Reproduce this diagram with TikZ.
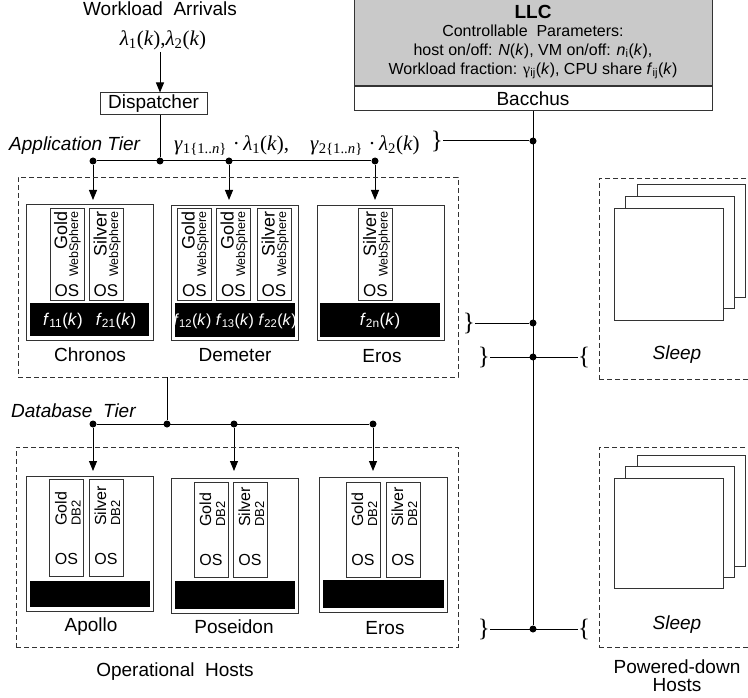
\documentclass[tikz,border=0pt]{standalone}
\usepackage{fontspec}
\setmainfont{Liberation Sans}
\newfontfamily\timesfont{Liberation Serif}
\usetikzlibrary{arrows.meta,positioning}

\begin{document}
\begin{tikzpicture}[x=1pt,y=-1pt,
  box/.style={draw=black!80, line width=1pt, fill=white, inner sep=0pt},
  tier/.style={draw=black!80, line width=0.9pt, dash pattern=on 5pt off 3pt, inner sep=0pt},
  host/.style={box, minimum width=127pt, minimum height=135pt},
  vm/.style={box, minimum width=34pt},
  bar/.style={fill=black, minimum width=120pt, inner sep=0pt},
  ftxt/.style={inner sep=0pt, text=white, font=\fontsize{17}{17}\selectfont},
  page/.style={draw=black!80, line width=1pt, fill=white},
  link/.style={line width=1pt},
  feed/.style={link, -{Triangle[length=10pt,width=8pt]}},
  dot/.style={circle, fill=black, inner sep=0pt, minimum size=7pt},
  lbl/.style={inner sep=0pt, font=\fontsize{19}{21}\selectfont},
  param/.style={inner sep=0pt, font=\fontsize{16}{18}\selectfont},
  formula/.style={inner sep=0pt, font=\fontsize{21}{21}\timesfont},
  big/.style={rotate=90, inner sep=0pt, font=\fontsize{18}{18}\selectfont},
  tiny/.style={rotate=90, inner sep=0pt, font=\fontsize{12.5}{13}\selectfont},
  os/.style={inner sep=0pt, font=\fontsize{17}{17}\selectfont},
  brace/.style={inner sep=0pt, font=\fontsize{25}{25}\timesfont}]
  \useasboundingbox (0,0) rectangle (748,698);

  % workload and dispatcher
  \node[lbl] (arrivals) at (160,9) {Workload~~Arrivals};
  \node[formula] (lambda) at (163,40) {\textit{λ}\textsubscript{1}(\textit{k}),\textit{λ}\textsubscript{2}(\textit{k})};
  \node[box, lbl, minimum width=107pt, minimum height=22pt] (disp) at (153.5,104) {Dispatcher};
  \coordinate (arr) at (160,52);
  \draw[feed] (arr) -- (arr |- disp.north);

  % application tier
  \node[lbl, font=\fontsize{19}{21}\selectfont\itshape, anchor=west] (apptxt) at (9,146) {Application Tier};
  \node[formula, anchor=west] (gamma) at (174,146) {\textit{γ}\textsubscript{1\{1..\textit{n}\}}\;·\,\textit{λ}\textsubscript{1}(\textit{k}),\quad\textit{γ}\textsubscript{2\{1..\textit{n}\}}\;·\,\textit{λ}\textsubscript{2}(\textit{k})};
  \node[dot] (a1) at (93,161) {};
  \node[dot] (a2) at (160,161) {};
  \node[dot] (a3) at (229,161) {};
  \node[dot] (a4) at (375,161) {};
  \draw[link] (arr |- disp.south) -- (a2);
  \draw[link] (a1) -- (a4);
  \coordinate (t1) at (93,200);
  \coordinate (t2) at (229,200);
  \coordinate (t3) at (375,200);
  \draw[feed] (a1) -- (t1);
  \draw[feed] (a3) -- (t2);
  \draw[feed] (a4) -- (t3);

  \node[tier, minimum width=440pt, minimum height=200pt] (apptier) at (238,277) {};

  \node[host] (chronos) at (89.5,272.5) {};
  \node[host] (demeter) at (235,273) {};
  \node[host] (erosapp) at (380.5,273) {};

  \node[vm, minimum height=91pt] (chg) at (67,254.5) {};
  \node[big, anchor=base east] (chgt) at (67,211) {Gold};
  \node[tiny, anchor=base east] (chgw) at (78,211) {WebSphere};
  \node[os] (chgo) at (67,291) {OS};
  \node[vm, minimum height=91pt] (chs) at (106,254.5) {};
  \node[big, anchor=base east] (chst) at (106.5,211) {Silver};
  \node[tiny, anchor=base east] (chsw) at (118,211) {WebSphere};
  \node[os] (chso) at (106,291) {OS};

  \node[vm, minimum height=91pt] (deg1) at (194.5,254.5) {};
  \node[big, anchor=base east] (deg1t) at (194.5,211) {Gold};
  \node[tiny, anchor=base east] (deg1w) at (206,211) {WebSphere};
  \node[os] (deg1o) at (194.5,291) {OS};
  \node[vm, minimum height=91pt] (deg2) at (233.5,254.5) {};
  \node[big, anchor=base east] (deg2t) at (233.5,211) {Gold};
  \node[tiny, anchor=base east] (deg2w) at (245,211) {WebSphere};
  \node[os] (deg2o) at (233.5,291) {OS};
  \node[vm, minimum height=91pt] (des) at (274,254.5) {};
  \node[big, anchor=base east] (dest) at (274.5,211) {Silver};
  \node[tiny, anchor=base east] (desw) at (286,211) {WebSphere};
  \node[os] (deso) at (274,291) {OS};

  \node[vm, minimum height=91pt] (ers) at (375.5,254.5) {};
  \node[big, anchor=base east] (erst) at (376,211) {Silver};
  \node[tiny, anchor=base east] (ersw) at (387.5,211) {WebSphere};
  \node[os] (erso) at (375.5,291) {OS};

  \node[bar, minimum width=119pt, minimum height=33pt] (chbar) at (89.5,319.5) {};
  \node[ftxt] (f11) at (63,321) {\textit{f}\textsubscript{11}(\textit{k})};
  \node[ftxt] (f21) at (116,321) {\textit{f}\textsubscript{21}(\textit{k})};
  \node[bar, minimum height=34pt] (debar) at (235,319.5) {};
  \node[ftxt, font=\fontsize{16}{16}\selectfont] (f12) at (235,321) {\textit{f}\textsubscript{12}(\textit{k}) \textit{f}\textsubscript{13}(\textit{k}) \textit{f}\textsubscript{22}(\textit{k})};
  \node[bar, minimum height=34pt] (erbar) at (380,320) {};
  \node[ftxt] (f2n) at (380,321) {\textit{f}\textsubscript{2n}(\textit{k})};

  \node[lbl] (chronoslbl) at (90,355) {Chronos};
  \node[lbl] (demeterlbl) at (235,355) {Demeter};
  \node[lbl] (eroslbl) at (382,356) {Eros};

  % database tier
  \node[lbl, font=\fontsize{19}{21}\selectfont\itshape, anchor=west] (dbtxt) at (11,411) {Database~~Tier};
  \node[dot] (d1) at (93,424) {};
  \node[dot] (d2) at (167,424) {};
  \node[dot] (d3) at (234,424) {};
  \node[dot] (d4) at (373,424) {};
  \draw[link] (apptier.south -| d2) -- (d2);
  \draw[link] (d1) -- (d4);
  \coordinate (u1) at (93,471);
  \coordinate (u2) at (234,471);
  \coordinate (u3) at (373,471);
  \draw[feed] (d1) -- (u1);
  \draw[feed] (d3) -- (u2);
  \draw[feed] (d4) -- (u3);

  \node[tier, minimum width=442pt, minimum height=200pt] (dbtier) at (237,547) {};

  \node[host] (apollo) at (89.5,543.5) {};
  \node[host] (poseidon) at (234.5,545.5) {};
  \node[host, minimum width=128pt] (erosdb) at (383,544.5) {};

  \node[vm, minimum height=97pt] (apg) at (66.5,527.5) {};
  \node[big, font=\fontsize{16}{16}\selectfont, anchor=base west] (apgt) at (66.5,526) {Gold};
  \node[tiny, font=\fontsize{13}{13}\selectfont, anchor=base west] (apgd) at (80.5,526) {DB2};
  \node[os, font=\fontsize{16}{16}\selectfont] (apgo) at (66.5,559) {OS};
  \node[vm, minimum height=97pt] (aps) at (106,527.5) {};
  \node[big, font=\fontsize{16}{16}\selectfont, anchor=base west] (apst) at (106,526) {Silver};
  \node[tiny, font=\fontsize{13}{13}\selectfont, anchor=base west] (apsd) at (120,526) {DB2};
  \node[os, font=\fontsize{16}{16}\selectfont] (apso) at (106,559) {OS};

  \node[vm, minimum height=95pt] (pog) at (211,529.5) {};
  \node[big, font=\fontsize{16}{16}\selectfont, anchor=base west] (pogt) at (211,527) {Gold};
  \node[tiny, font=\fontsize{13}{13}\selectfont, anchor=base west] (pogd) at (225,527) {DB2};
  \node[os, font=\fontsize{16}{16}\selectfont] (pogo) at (211,560) {OS};
  \node[vm, minimum height=95pt] (pos) at (250,529.5) {};
  \node[big, font=\fontsize{16}{16}\selectfont, anchor=base west] (post) at (250,527) {Silver};
  \node[tiny, font=\fontsize{13}{13}\selectfont, anchor=base west] (posd) at (264,527) {DB2};
  \node[os, font=\fontsize{16}{16}\selectfont] (poso) at (250,560) {OS};

  \node[vm, minimum height=95pt] (edg) at (363,529.5) {};
  \node[big, font=\fontsize{16}{16}\selectfont, anchor=base west] (edgt) at (363,527) {Gold};
  \node[tiny, font=\fontsize{13}{13}\selectfont, anchor=base west] (edgd) at (377,527) {DB2};
  \node[os, font=\fontsize{16}{16}\selectfont] (edgo) at (363,560) {OS};
  \node[vm, minimum height=95pt] (eds) at (403,529.5) {};
  \node[big, font=\fontsize{16}{16}\selectfont, anchor=base west] (edst) at (403,527) {Silver};
  \node[tiny, font=\fontsize{13}{13}\selectfont, anchor=base west] (edsd) at (417,527) {DB2};
  \node[os, font=\fontsize{16}{16}\selectfont] (edso) at (403,560) {OS};

  \node[bar, minimum height=26pt] (apbar) at (90,594) {};
  \node[bar, minimum height=28pt] (pobar) at (235,595) {};
  \node[bar, minimum width=121pt, minimum height=28pt] (edbar) at (383.5,594) {};

  \node[lbl] (apollolbl) at (91,627) {Apollo};
  \node[lbl] (poseidonlbl) at (234,627) {Poseidon};
  \node[lbl] (erosdblbl) at (385,628) {Eros};
  \node[lbl] (ophosts) at (175,672) {Operational~~Hosts};

  % controller
  \node[box, fill=black!21, minimum width=358pt, minimum height=86pt] (llc) at (533,43) {};
  \node[box, lbl, minimum width=358pt, minimum height=24pt, anchor=north] (bacchus) at (llc.south) {Bacchus};
  \node[lbl, font=\fontsize{19}{21}\selectfont\bfseries] (llctitle) at (533,12) {LLC};
  \node[param] (llcline1) at (533,31) {Controllable~~Parameters:};
  \node[param] (llcline2) at (533,51) {host on/off: \textit{N}(\textit{k}), VM on/off: \textit{n}\textsubscript{i}(\textit{k}),};
  \node[param] (llcline3) at (533,71) {Workload fraction: {\timesfont γ}\textsubscript{ij}(\textit{k}), CPU share \textit{f}\textsubscript{ij}(\textit{k})};

  \node[dot] (j1) at (533,141) {};
  \node[dot] (j2) at (533,323) {};
  \node[dot] (j3) at (533,357) {};
  \node[dot] (j4) at (533,629) {};
  \draw[link] (bacchus.south) -- (j4);

  \node[brace, anchor=east] (br1) at (443,141) {\}};
  \draw[link] (br1.east) -- (j1);
  \node[brace, anchor=east] (br2) at (475,323) {\}};
  \draw[link] (br2.east) -- (j2);
  \node[brace, anchor=east] (br3) at (490,357) {\}};
  \node[brace, anchor=west] (br3r) at (578,357) {\{};
  \draw[link] (br3.east) -- (br3r.west);
  \node[brace, anchor=east] (br4) at (490,629) {\}};
  \node[brace, anchor=west] (br4r) at (578,629) {\{};
  \draw[link] (br4.east) -- (br4r.west);

  % powered-down hosts
  \node[tier, minimum width=161pt, minimum height=201pt] (sleep1) at (679.5,278.5) {};
  \draw[page] (637,185) rectangle (745,297);
  \draw[page] (625,197) rectangle (734,308);
  \draw[page] (614,209) rectangle (723,320);
  \node[lbl, font=\fontsize{19}{21}\selectfont\itshape] (sleep1lbl) at (677,355) {Sleep};

  \node[tier, minimum width=161pt, minimum height=200pt] (sleep2) at (679.5,547) {};
  \draw[page] (637,455) rectangle (745,566);
  \draw[page] (625,466) rectangle (734,577);
  \draw[page] (614,478) rectangle (723,588);
  \node[lbl, font=\fontsize{19}{21}\selectfont\itshape] (sleep2lbl) at (677,625) {Sleep};

  \node[lbl, align=center, font=\fontsize{19}{18}\selectfont] (pdhosts) at (677,676) {Powered-down\\Hosts};
\end{tikzpicture}
\end{document}
